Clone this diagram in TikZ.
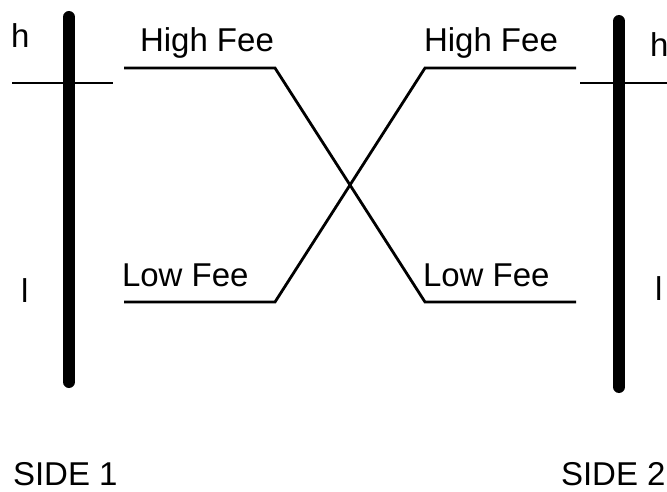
\documentclass[tikz,border=0pt]{standalone}
\usepackage{fontspec}
\setmainfont{Liberation Sans}
\begin{document}
\begin{tikzpicture}[x=1pt,y=-1pt,
  lbl/.style={anchor=base west,inner sep=0pt,outer sep=0pt,font=\fontsize{33}{39}\selectfont},
  bar/.style={line width=12pt,line cap=round},
  thin/.style={line width=2.8pt}]
\useasboundingbox (0,0) rectangle (667,492);
% bars
\coordinate (b1t) at (69,17); \coordinate (b1b) at (69,382);
\coordinate (b2t) at (619,21); \coordinate (b2b) at (619,387);
\draw[bar] (b1t) -- (b1b);
\draw[bar] (b2t) -- (b2b);
% ticks
\coordinate (t1a) at (12,83); \coordinate (t1b) at (113,83);
\coordinate (t2a) at (580,83); \coordinate (t2b) at (667,83);
\draw[thin] (t1a) -- (t1b);
\draw[thin] (t2a) -- (t2b);
% crossing fee lines
\coordinate (hl1) at (124,68); \coordinate (hl2) at (275,68);
\coordinate (ll1) at (124,302); \coordinate (ll2) at (275,302);
\coordinate (hr1) at (425,68); \coordinate (hr2) at (576,68);
\coordinate (lr1) at (425,302); \coordinate (lr2) at (576,302);
\draw[thin,line join=miter] (hl1) -- (hl2) -- (lr1) -- (lr2);
\draw[thin,line join=miter] (ll1) -- (ll2) -- (hr1) -- (hr2);
% labels
\node[lbl] (h1) at (11,48) {h};
\node[lbl] (h2) at (650,57) {h};
\node[lbl] (l1) at (21,302) {l};
\node[lbl] (l2) at (655,300) {l};
\node[lbl] (hf1) at (140,52) {High Fee};
\node[lbl] (hf2) at (424,52) {High Fee};
\node[lbl] (lf1) at (122,286) {Low Fee};
\node[lbl] (lf2) at (423,286) {Low Fee};
\node[lbl] (s1) at (13,485) {SIDE 1};
\node[lbl] (s2) at (561,485) {SIDE 2};
\end{tikzpicture}
\end{document}
